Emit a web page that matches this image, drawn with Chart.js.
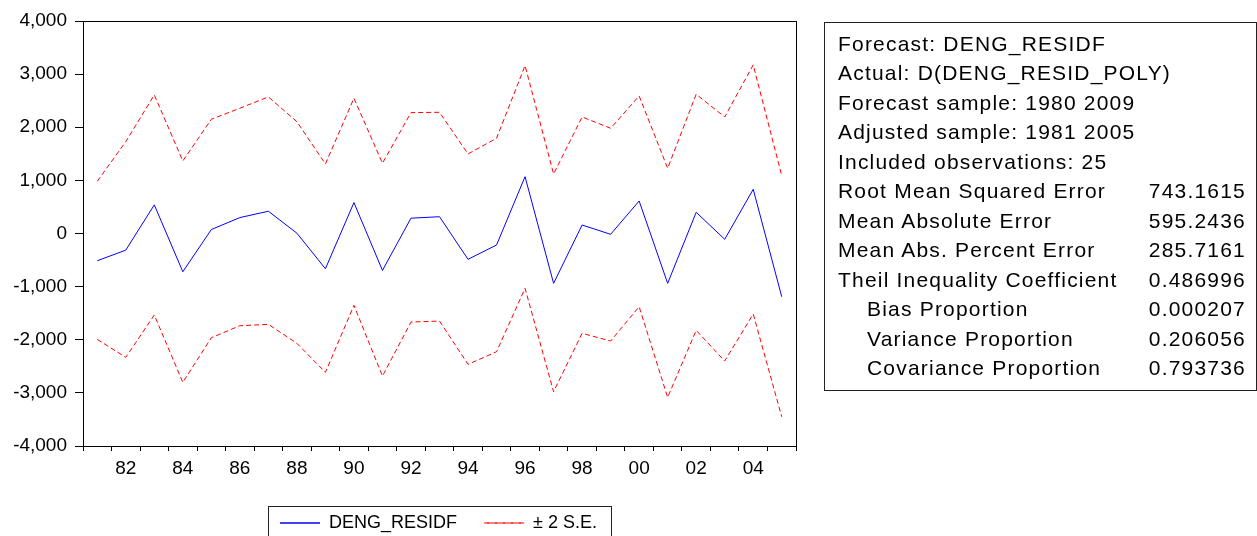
<!DOCTYPE html>
<html>
<head>
<meta charset="utf-8">
<script src="https://cdn.jsdelivr.net/npm/chart.js@4"></script>
<style>
  html, body { margin: 0; padding: 0; background: #fff; overflow: hidden; }
  #wrap { position: absolute; left: 0; top: 0; width: 877px; height: 542px; }
  #stats {
    position: absolute; left: 824px; top: 22px; width: 433px; height: 369px;
    box-sizing: border-box; border: 1px solid #222; padding-top: 5.5px;
    font-family: "Liberation Sans", Arial, sans-serif; font-size: 21px;
    letter-spacing: 1.2px; color: #000;
  }
  #stats .row { position: relative; height: 29.5px; line-height: 29.5px; white-space: nowrap; }
  #stats .lab { position: absolute; left: 13px; }
  #stats .lab.sub { left: 42px; }
  #stats .val { position: absolute; right: 10px; }
</style>
</head>
<body>
<div id="wrap"><canvas id="fc"></canvas></div>
<div id="stats"></div>
<script>
// forecast years and series
const years = ['1981','1982','1983','1984','1985','1986','1987','1988','1989','1990',
  '1991','1992','1993','1994','1995','1996','1997','1998','1999','2000',
  '2001','2002','2003','2004','2005'];
const forecast = [-513, -313, 539, -720, 75, 300, 419, 6, -663, 582, -695, 288, 316,
  -486, -217, 1070, -938, 160, -15, 612, -938, 399, -109, 832, -1190];
const upperBand = [983, 1729, 2608, 1365, 2150, 2358, 2571, 2105, 1309, 2546, 1322, 2275, 2282,
  1497, 1793, 3160, 1121, 2194, 1981, 2589, 1228, 2621, 2194, 3173, 1089];
const lowerBand = [-1993, -2331, -1535, -2802, -1962, -1736, -1710, -2068, -2614, -1352, -2684, -1667, -1648,
  -2463, -2226, -1032, -2979, -1879, -2024, -1378, -3085, -1823, -2401, -1516, -3450];
const yTicks = [-4000, -3000, -2000, -1000, 0, 1000, 2000, 3000, 4000];

// evaluation table
const statLabels = ['Forecast: DENG_RESIDF', 'Actual: D(DENG_RESID_POLY)', 'Forecast sample: 1980 2009',
  'Adjusted sample: 1981 2005', 'Included observations: 25', 'Root Mean Squared Error',
  'Mean Absolute Error', 'Mean Abs. Percent Error', 'Theil Inequality Coefficient',
  'Bias Proportion', 'Variance Proportion', 'Covariance Proportion'];
const statValues = ['', '', '', '', '', '743.1615', '595.2436', '285.7161', '0.486996',
  '0.000207', '0.206056', '0.793736'];
const statIndented = [false, false, false, false, false, false, false, false, false, true, true, true];

const box = document.getElementById('stats');
statLabels.forEach((t, i) => {
  const row = document.createElement('div');
  row.className = 'row';
  const a = document.createElement('span');
  a.className = statIndented[i] ? 'lab sub' : 'lab';
  a.textContent = t;
  row.appendChild(a);
  if (statValues[i]) {
    const b = document.createElement('span');
    b.className = 'val';
    b.textContent = statValues[i];
    row.appendChild(b);
  }
  box.appendChild(row);
});

Chart.defaults.font.family = '"Liberation Sans", Arial, sans-serif';
Chart.defaults.color = '#000';

// closed frame round the plot and a border round the legend
const framePlugin = {
  id: 'framePlugin',
  afterLayout(chart) {
    // centre the legend on the whole canvas, not on the padded area
    const lg = chart.legend;
    lg.left = 0;
    lg.right = chart.width;
    lg.width = chart.width;
  },
  afterDraw(chart) {
    const { ctx, chartArea: a, legend } = chart;
    ctx.save();
    ctx.strokeStyle = '#000';
    ctx.lineWidth = 1;
    ctx.setLineDash([]);
    ctx.strokeRect(a.left + 0.5, a.top + 0.5, a.right - a.left, a.bottom - a.top);
    const hb = legend.legendHitBoxes;
    if (hb && hb.length) {
      const l = Math.min(...hb.map(b => b.left)) - 12;
      const r = Math.max(...hb.map(b => b.left + b.width)) + 14;
      const t = hb[0].top - 8;
      ctx.strokeStyle = '#222';
      ctx.strokeRect(Math.round(l) + 0.5, Math.round(t) + 0.5, Math.round(r - l), 60);
    }
    ctx.restore();
  }
};

new Chart(document.getElementById('fc'), {
  type: 'line',
  data: {
    labels: years,
    datasets: [
      {
        label: 'DENG_RESIDF',
        data: forecast,
        borderColor: 'rgb(0,0,255)',
        backgroundColor: 'rgb(0,0,255)',
        borderWidth: 1,
        pointRadius: 0,
        fill: false
      },
      {
        label: '± 2 S.E.',
        data: upperBand,
        borderColor: 'rgb(255,0,0)',
        backgroundColor: 'rgb(255,0,0)',
        borderWidth: 1,
        borderDash: [5, 3],
        pointRadius: 0,
        fill: false
      },
      {
        label: 'lower',
        data: lowerBand,
        borderColor: 'rgb(255,0,0)',
        backgroundColor: 'rgb(255,0,0)',
        borderWidth: 1,
        borderDash: [5, 3],
        pointRadius: 0,
        fill: false
      }
    ]
  },
  options: {
    responsive: true,
    maintainAspectRatio: false,
    animation: false,
    layout: { padding: { top: 21, right: 81, left: 0, bottom: 0 } },
    scales: {
      x: {
        type: 'category',
        offset: true,
        afterFit(scale) { scale.height = 41; },
        grid: {
          offset: true,
          drawOnChartArea: false,
          tickLength: 5,
          color: '#000'
        },
        border: { display: true, color: '#000' },
        ticks: {
          autoSkip: false,
          maxRotation: 0,
          padding: 6,
          font: { size: 19 },
          color: '#000',
          callback(value, index) {
            const y = this.getLabelForValue(value);
            return Number(y) % 2 === 0 ? y.slice(2) : '';
          }
        }
      },
      y: {
        min: yTicks[0],
        max: yTicks[yTicks.length - 1],
        afterFit(scale) { scale.width = 83; },
        afterBuildTicks(scale) { scale.ticks = yTicks.map(v => ({ value: v })); },
        grid: {
          drawOnChartArea: false,
          tickLength: 8,
          color: '#000'
        },
        border: { display: true, color: '#000' },
        ticks: {
          padding: 8,
          font: { size: 19 },
          color: '#000',
          callback: v => v.toLocaleString('en-US')
        }
      }
    },
    plugins: {
      tooltip: { enabled: false },
      legend: {
        position: 'bottom',
        labels: {
          boxWidth: 40,
          boxHeight: 0.01,
          padding: 27,
          font: { size: 18 },
          color: '#000',
          filter: item => item.datasetIndex < 2
        }
      }
    }
  },
  plugins: [framePlugin]
});
</script>
</body>
</html>
